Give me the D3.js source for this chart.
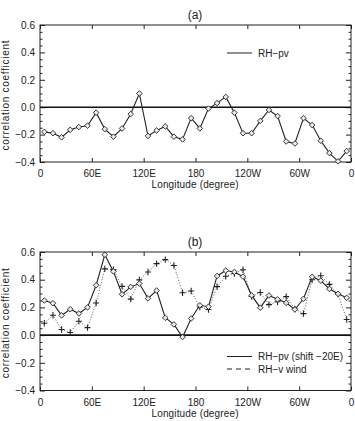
<!DOCTYPE html>
<html><head><meta charset="utf-8">
<script src="https://cdn.jsdelivr.net/npm/d3@7"></script>
<style>
body{margin:0;background:#fff}
svg{display:block}
text{font-family:"Liberation Sans",Arial,sans-serif;fill:#222}
</style>
</head><body>
<svg id="c" width="355" height="421"></svg>
<script>
// ---- data ----
const longitudes = [5,15,25,35,45,55,65,75,85,95,105,115,125,135,145,155,165,175,185,195,205,215,225,235,245,255,265,275,285,295,305,315,325,335,345,355];
const xTickValues = [0,60,120,180,240,300,360];
const xTickLabels = ["0","60E","120E","180","120W","60W","0"];
const yTickValues = [-0.4,-0.2,0.0,0.2,0.4,0.6];
const yMinorValues = [-0.35,-0.3,-0.25,-0.15,-0.1,-0.05,0.05,0.1,0.15,0.25,0.3,0.35,0.45,0.5,0.55];

const rhPvA = [-0.18,-0.19,-0.22,-0.165,-0.145,-0.135,-0.04,-0.16,-0.215,-0.155,-0.05,0.10,
  -0.21,-0.17,-0.14,-0.215,-0.235,-0.08,-0.155,-0.01,0.03,0.075,-0.04,-0.19,
  -0.19,-0.10,-0.02,-0.065,-0.25,-0.265,-0.08,-0.13,-0.245,-0.335,-0.395,-0.32];

const rhPvShiftB = [0.25,0.23,0.142,0.187,0.156,0.20,0.36,0.58,0.46,0.295,0.348,0.372,
  0.265,0.322,0.125,0.077,-0.014,0.12,0.215,0.205,0.427,0.466,0.456,0.422,
  0.287,0.198,0.286,0.258,0.233,0.185,0.262,0.421,0.393,0.333,0.298,0.269];

const rhVwindB = [0.086,0.143,0.04,0.019,0.10,0.054,0.232,0.478,0.473,0.352,0.26,0.399,
  0.456,0.516,0.545,0.503,0.306,0.318,0.203,0.185,0.35,0.425,0.445,0.472,
  0.279,0.308,0.22,0.241,0.278,0.188,0.155,0.40,0.428,0.366,0.296,0.113];

const panelTitles = ["(a)","(b)"];
const xTitle = "Longitude (degree)";
const yTitle = "correlation coefficient";
const legendA = ["RH\u2212pv"];
const legendB = ["RH\u2212pv (shift \u221220E)","RH\u2212v wind"];

// ---- drawing ----
const svg = d3.select("#c");
const INK = "#222";
const fmtY = d3.format(".1f");

function styleAxis(g){
  g.select(".domain").remove();
  g.selectAll("line").attr("stroke", INK);
  g.selectAll("text").attr("font-size", 10).attr("font-family", '"Liberation Sans",Arial,sans-serif').attr("fill", INK);
  g.attr("font-family", null).attr("font-size", null);
}

function panel(cfg){
  const g = svg.append("g");
  const x = d3.scaleLinear().domain([0,360]).range([40,351]);
  const y = d3.scaleLinear().domain([-0.4,0.6]).range([cfg.bottom, cfg.top]);

  // minor y ticks (left & right)
  g.append("g").attr("transform","translate(40,0)")
    .call(d3.axisLeft(y).tickValues(yMinorValues).tickSize(-2.5).tickFormat(""))
    .call(styleAxis);
  g.append("g").attr("transform","translate(351,0)")
    .call(d3.axisRight(y).tickValues(yMinorValues).tickSize(-2.5).tickFormat(""))
    .call(styleAxis);
  // major y ticks
  g.append("g").attr("transform","translate(40,0)")
    .call(d3.axisLeft(y).tickValues(yTickValues).tickSize(-5).tickPadding(5).tickFormat(fmtY))
    .call(styleAxis);
  g.append("g").attr("transform","translate(351,0)")
    .call(d3.axisRight(y).tickValues(yTickValues).tickSize(-5).tickFormat(""))
    .call(styleAxis);
  // x ticks
  g.append("g").attr("transform",`translate(0,${cfg.bottom})`)
    .call(d3.axisBottom(x).tickValues(xTickValues).tickSize(-4).tickPadding(cfg.xPad).tickFormat((d,i)=>xTickLabels[i]))
    .call(styleAxis);
  g.append("g").attr("transform",`translate(0,${cfg.top})`)
    .call(d3.axisTop(x).tickValues(xTickValues).tickSize(-4).tickFormat(""))
    .call(styleAxis);

  // frame
  g.append("rect").attr("x",x(0)).attr("y",cfg.top)
    .attr("width",x(360)-x(0)).attr("height",cfg.bottom-cfg.top)
    .attr("fill","none").attr("stroke",INK).attr("stroke-width",1);

  // zero line
  g.append("line").attr("x1",x(0)).attr("x2",x(360)).attr("y1",y(0)).attr("y2",y(0))
    .attr("stroke","#111").attr("stroke-width",1.6);

  const line = d3.line().x((d,i)=>x(longitudes[i])).y(d=>y(d));

  if(cfg.dotted){
    g.append("path").attr("d",line(cfg.dotted)).attr("fill","none")
      .attr("stroke","#555").attr("stroke-width",1).attr("stroke-dasharray","1,1.8");
    g.selectAll(".plus").data(cfg.dotted).enter().append("path")
      .attr("d",(d,i)=>{const cx=x(longitudes[i]), cy=y(d); return `M${cx-3},${cy}H${cx+3}M${cx},${cy-3.2}V${cy+3.2}`;})
      .attr("stroke",INK).attr("stroke-width",1.1).attr("fill","none");
  }

  g.append("path").attr("d",line(cfg.solid)).attr("fill","none")
    .attr("stroke",INK).attr("stroke-width",1.1);
  g.selectAll(".dia").data(cfg.solid).enter().append("path")
    .attr("d",(d,i)=>{const cx=x(longitudes[i]), cy=y(d), r=2.8; return `M${cx},${cy-r}L${cx+r},${cy}L${cx},${cy+r}L${cx-r},${cy}Z`;})
    .attr("fill","#e8e8e8").attr("stroke",INK).attr("stroke-width",0.9);

  // legend
  cfg.legend.forEach((t,i)=>{
    const ly = cfg.legendY + i*12.5;
    g.append("line").attr("x1",227).attr("x2",252).attr("y1",ly).attr("y2",ly)
      .attr("stroke",INK).attr("stroke-width",1)
      .attr("stroke-dasharray", i===1 ? "5,4" : null);
    g.append("text").attr("x",258).attr("y",ly+3.5).attr("font-size",10).text(t);
  });

  // titles
  g.append("text").attr("x",195).attr("y",cfg.top-6).attr("text-anchor","middle")
    .attr("font-size",12).text(cfg.title);
  g.append("text").attr("x",195).attr("y",cfg.xTitleY).attr("text-anchor","middle")
    .attr("font-size",10).attr("textLength",87).text(xTitle);
  const cy = (cfg.top+cfg.bottom)/2 + 2;
  g.append("text").attr("transform",`translate(8.5,${cy}) rotate(-90)`)
    .attr("text-anchor","middle").attr("font-size",10)
    .attr("textLength",110).attr("lengthAdjust","spacing").text(yTitle);
}

panel({top:25, bottom:162, xPad:8, xTitleY:188, title:panelTitles[0],
       solid:rhPvA, legend:legendA, legendY:53});
panel({top:252, bottom:390.5, xPad:8.5, xTitleY:417, title:panelTitles[1],
       solid:rhPvShiftB, dotted:rhVwindB, legend:legendB, legendY:356.5});
</script>
</body></html>
